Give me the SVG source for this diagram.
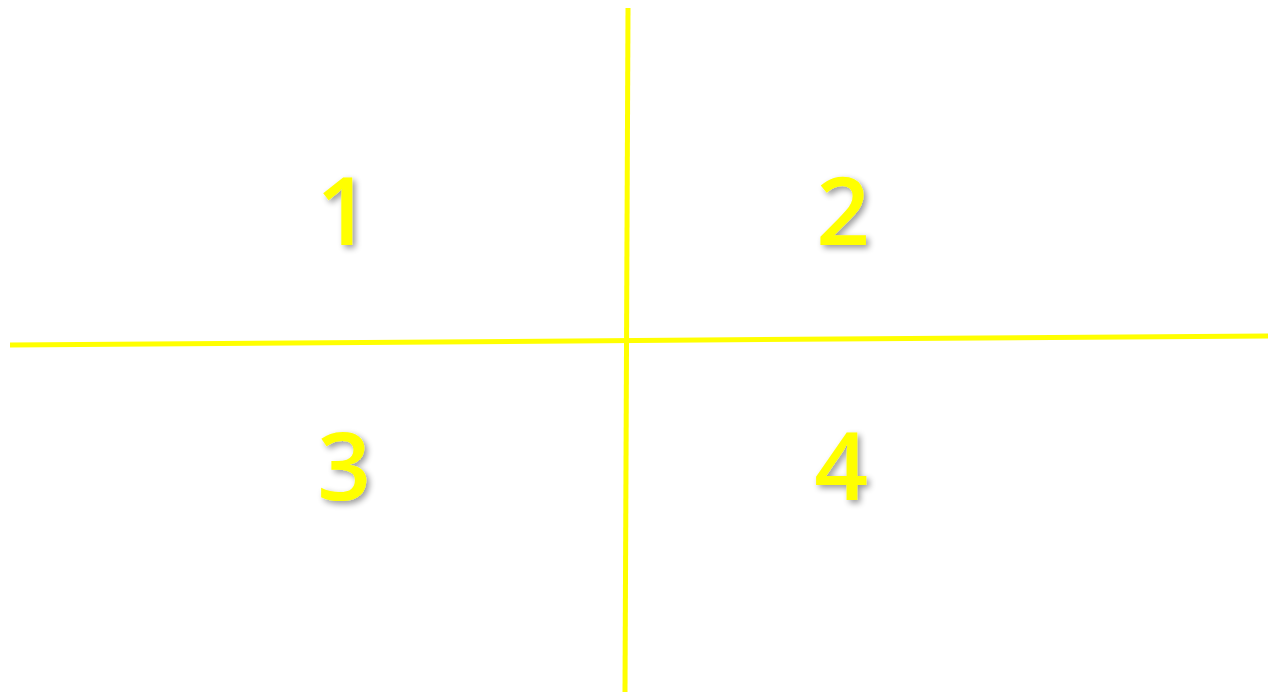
<svg xmlns="http://www.w3.org/2000/svg" width="1268" height="693" viewBox="0 0 1268 693">
<defs>
<filter id="sh" x="-30%" y="-30%" width="160%" height="160%">
<feGaussianBlur in="SourceAlpha" stdDeviation="3"/>
<feOffset dx="3" dy="3" result="b"/>
<feComponentTransfer><feFuncA type="linear" slope="0.4"/></feComponentTransfer>
<feMerge><feMergeNode/><feMergeNode in="SourceGraphic"/></feMerge>
</filter>
<style>
.ln{stroke:#ffff00;stroke-width:5;fill:none;stroke-linecap:butt}
.num{font-family:"Open Sans","DejaVu Sans",sans-serif;font-weight:600;font-size:94px;fill:#ffff00;text-anchor:middle;filter:url(#sh)}
</style>
</defs>
<rect width="1268" height="693" fill="#ffffff"/>
<g id="connectors">
<line class="ln" x1="628" y1="8" x2="625" y2="692"/>
<line class="ln" x1="10" y1="345" x2="1268" y2="336"/>
</g>
<g id="q1"><text class="num" x="343" y="245">1</text></g>
<g id="q2"><text class="num" x="843" y="245">2</text></g>
<g id="q3"><text class="num" x="344" y="500">3</text></g>
<g id="q4"><text class="num" x="841" y="500">4</text></g>
</svg>
